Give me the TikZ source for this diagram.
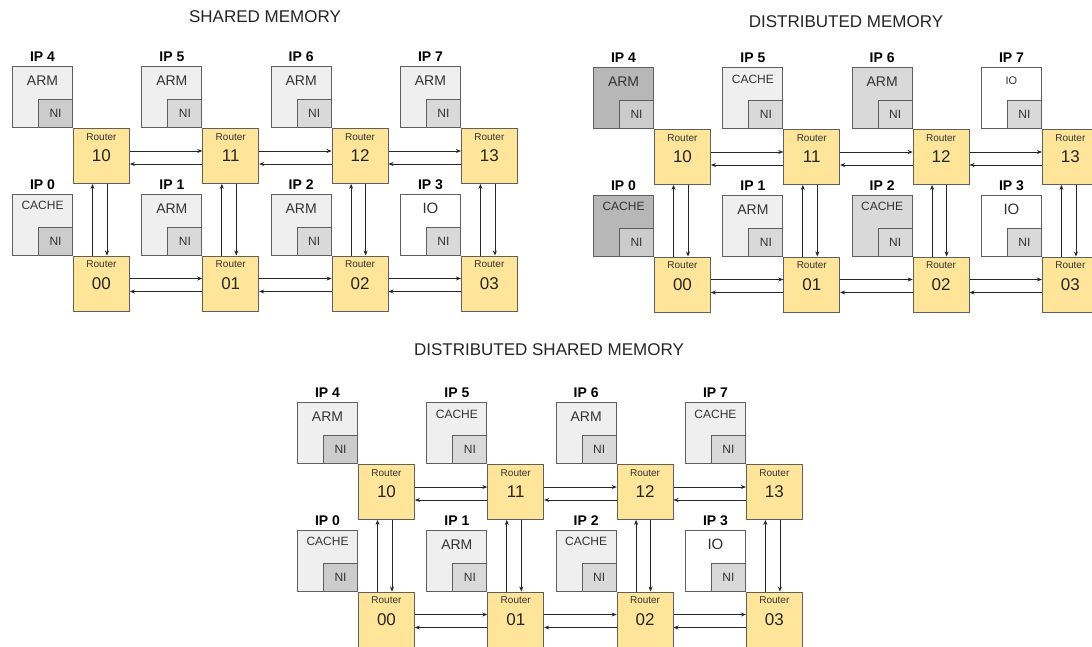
\documentclass[tikz,border=0pt]{standalone}
\usepackage{fontspec}
\setmainfont{Liberation Sans}
\usetikzlibrary{arrows.meta,calc}
\definecolor{routerfill}{HTML}{FFE599}
\definecolor{edgec}{HTML}{5F5F5F}
\definecolor{linkc}{HTML}{262626}
\definecolor{txt}{HTML}{333333}
\definecolor{ipl}{HTML}{EFEFEF}
\definecolor{ipd}{HTML}{B7B7B7}
\definecolor{ipm}{HTML}{D9D9D9}
\definecolor{nid}{HTML}{CCCCCC}
\definecolor{nim}{HTML}{D9D9D9}
\tikzset{
  router/.style={draw=edgec, fill=routerfill, line width=0.9pt, minimum width=56pt, minimum height=55pt, inner sep=0pt, anchor=north west},
  rlab/.style={font=\fontsize{10}{10}\selectfont, text=txt, inner sep=0pt},
  rnum/.style={font=\fontsize{17}{17}\selectfont, text=linkc, inner sep=0pt},
  ipbox/.style={draw=edgec, line width=0.9pt, minimum width=60pt, minimum height=61pt, inner sep=0pt, anchor=south east},
  nibox/.style={draw=edgec, line width=0.9pt, minimum width=34pt, minimum height=28pt, inner sep=0pt, anchor=south east, font=\fontsize{12}{12}\selectfont, text=txt},
  iplab/.style={font=\bfseries\fontsize{14}{14}\selectfont, text=black, inner sep=0pt},
  cont/.style={text=txt, inner sep=0pt},
  link/.style={draw=linkc, line width=0.7pt, -{Stealth[length=5pt,width=4pt]}},
  ttl/.style={font=\fontsize{17}{17}\selectfont, text=linkc, inner sep=0pt}
}
\newcommand\nocgrid[4]{%
\begin{scope}[shift={(#2,#3)}]
\foreach \c in {0,1,2,3}{
  \foreach \r/\yy in {1/0,0/127.5}{
    \node[router] (#1r\r\c) at ({129.3*\c},\yy) {};
    \node[rlab] (#1rl\r\c) at ([yshift=-9pt]#1r\r\c.north) {Router};
    \node[rnum] (#1rn\r\c) at ([yshift=-28pt]#1r\r\c.north) {\r\c};
  }
}
\foreach \r in {0,1}{
  \foreach \c/\d in {0/1,1/2,2/3}{
    \draw[link] ([yshift=-23pt]#1r\r\c.north east) -- ([yshift=-23pt]#1r\r\d.north west);
    \draw[link] ([yshift=-36pt]#1r\r\d.north west) -- ([yshift=-36pt]#1r\r\c.north east);
  }
}
\foreach \c in {0,1,2,3}{
  \draw[link] ([xshift=19.5pt]#1r0\c.north west) -- ([xshift=19.5pt]#1r1\c.south west);
  \draw[link] ([xshift=34pt]#1r1\c.south west) -- ([xshift=34pt]#1r0\c.north west);
}
\foreach \n/\c/\r/\lab/\fs/\dy/\bfc/\nfc in {#4}{
  \node[ipbox, fill=\bfc] (#1ip\n) at (#1r\r\c.north west) {};
  \node[nibox, fill=\nfc] (#1ni\n) at (#1r\r\c.north west) {NI};
  \node[iplab] (#1ipl\n) at ([yshift=9pt]#1ip\n.north) {IP \n};
  \node[cont, font=\fontsize{\fs}{\fs}\selectfont] (#1c\n) at ([yshift=-\dy pt]#1ip\n.north) {\lab};
}
\end{scope}}
\begin{document}
\begin{tikzpicture}[x=1pt,y=-1pt]
\useasboundingbox (0,0) rectangle (1092,646);
\clip (0,0) rectangle (1092,646);
\fill[white] (0,0) rectangle (1092,646);
\node[ttl] (t1) at (265,17) {SHARED MEMORY};
\node[ttl] (t2) at (846,22) {DISTRIBUTED MEMORY};
\node[ttl] (t3) at (549,350) {DISTRIBUTED SHARED MEMORY};
\nocgrid{sm}{73}{128}{4/0/1/ARM/14/15/ipl/nid, 5/1/1/ARM/14/15/ipl/nim, 6/2/1/ARM/14/15/ipl/nim, 7/3/1/ARM/14/15/ipl/nim,
  0/0/0/CACHE/12/12/ipl/nid, 1/1/0/ARM/14/15/ipl/nim, 2/2/0/ARM/14/15/ipl/nim, 3/3/0/IO/15/15/white/nim}
\nocgrid{dm}{654}{129}{4/0/1/ARM/14/15/ipd/nid, 5/1/1/CACHE/12/12/ipl/nim, 6/2/1/ARM/14/15/ipm/nim, 7/3/1/IO/11/14/white/nim,
  0/0/0/CACHE/12/12/ipd/nid, 1/1/0/ARM/14/15/ipl/nim, 2/2/0/CACHE/12/12/ipm/nim, 3/3/0/IO/15/15/white/nim}
\nocgrid{dsm}{358}{464}{4/0/1/ARM/14/15/ipl/nid, 5/1/1/CACHE/12/12/ipl/nim, 6/2/1/ARM/14/15/ipl/nim, 7/3/1/CACHE/12/12/ipl/nim,
  0/0/0/CACHE/12/12/ipl/nid, 1/1/0/ARM/14/15/ipl/nim, 2/2/0/CACHE/12/12/ipl/nim, 3/3/0/IO/15/15/white/nim}
\end{tikzpicture}
\end{document}
